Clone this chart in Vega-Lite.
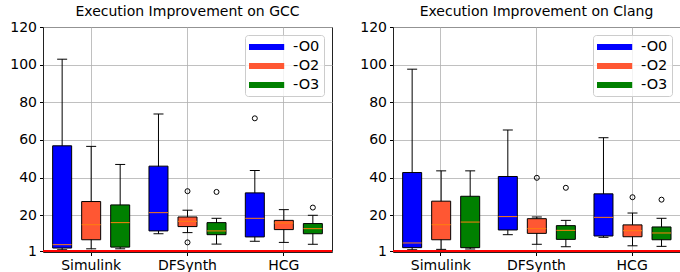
{
  "$schema": "https://vega.github.io/schema/vega-lite/v6.json",
  "padding": {"left": 9, "right": 4, "top": 4, "bottom": 0},
  "spacing": 25,
  "datasets": {
    "boxes": [
      {"compiler": "GCC", "group": "Simulink", "opt": "-O0", "lower": 1.7, "q1": 2.6, "median": 4.4, "q3": 56.9, "upper": 102.9},
      {"compiler": "GCC", "group": "Simulink", "opt": "-O2", "lower": 2.2, "q1": 7.0, "median": 15.0, "q3": 27.3, "upper": 56.6},
      {"compiler": "GCC", "group": "Simulink", "opt": "-O3", "lower": 2.2, "q1": 3.1, "median": 16.1, "q3": 25.5, "upper": 47.0},
      {"compiler": "GCC", "group": "DFSynth", "opt": "-O0", "lower": 10.2, "q1": 11.7, "median": 21.4, "q3": 46.1, "upper": 73.8},
      {"compiler": "GCC", "group": "DFSynth", "opt": "-O2", "lower": 10.8, "q1": 14.0, "median": 16.8, "q3": 19.1, "upper": 22.7},
      {"compiler": "GCC", "group": "DFSynth", "opt": "-O3", "lower": 4.7, "q1": 9.7, "median": 11.7, "q3": 16.1, "upper": 18.4},
      {"compiler": "GCC", "group": "HCG", "opt": "-O0", "lower": 6.2, "q1": 8.5, "median": 18.4, "q3": 31.9, "upper": 43.8},
      {"compiler": "GCC", "group": "HCG", "opt": "-O2", "lower": 5.6, "q1": 12.4, "median": 15.9, "q3": 17.3, "upper": 23.0},
      {"compiler": "GCC", "group": "HCG", "opt": "-O3", "lower": 4.6, "q1": 10.2, "median": 12.9, "q3": 15.6, "upper": 20.0},
      {"compiler": "Clang", "group": "Simulink", "opt": "-O0", "lower": 1.7, "q1": 2.8, "median": 5.3, "q3": 42.7, "upper": 97.6},
      {"compiler": "Clang", "group": "Simulink", "opt": "-O2", "lower": 1.9, "q1": 7.0, "median": 15.0, "q3": 27.5, "upper": 43.6},
      {"compiler": "Clang", "group": "Simulink", "opt": "-O3", "lower": 2.1, "q1": 2.8, "median": 16.4, "q3": 30.1, "upper": 43.6},
      {"compiler": "Clang", "group": "DFSynth", "opt": "-O0", "lower": 9.7, "q1": 12.2, "median": 19.3, "q3": 40.6, "upper": 65.3},
      {"compiler": "Clang", "group": "DFSynth", "opt": "-O2", "lower": 4.6, "q1": 10.4, "median": 12.9, "q3": 18.2, "upper": 19.1},
      {"compiler": "Clang", "group": "DFSynth", "opt": "-O3", "lower": 3.3, "q1": 7.2, "median": 12.0, "q3": 14.5, "upper": 17.3},
      {"compiler": "Clang", "group": "HCG", "opt": "-O0", "lower": 8.3, "q1": 9.0, "median": 18.9, "q3": 31.4, "upper": 61.2},
      {"compiler": "Clang", "group": "HCG", "opt": "-O2", "lower": 3.8, "q1": 8.6, "median": 11.8, "q3": 14.9, "upper": 21.2},
      {"compiler": "Clang", "group": "HCG", "opt": "-O3", "lower": 3.5, "q1": 7.0, "median": 10.6, "q3": 13.8, "upper": 18.4}
    ],
    "outliers": [
      {"compiler": "GCC", "group": "DFSynth", "opt": "-O2", "value": 32.8},
      {"compiler": "GCC", "group": "DFSynth", "opt": "-O2", "value": 5.6},
      {"compiler": "GCC", "group": "DFSynth", "opt": "-O3", "value": 32.4},
      {"compiler": "GCC", "group": "HCG", "opt": "-O0", "value": 71.5},
      {"compiler": "GCC", "group": "HCG", "opt": "-O3", "value": 24.1},
      {"compiler": "Clang", "group": "DFSynth", "opt": "-O2", "value": 39.9},
      {"compiler": "Clang", "group": "DFSynth", "opt": "-O3", "value": 34.6},
      {"compiler": "Clang", "group": "HCG", "opt": "-O2", "value": 29.6},
      {"compiler": "Clang", "group": "HCG", "opt": "-O3", "value": 28.3}
    ]
  },
  "hconcat": [
    {
      "width": 289, "height": 225,
      "title": {"text": "Execution Improvement on GCC"},
      "layer": [
        {"data": {"name": "boxes"}, "transform": [{"filter": "datum.compiler === 'GCC'"}],
         "mark": {"type": "rule", "color": "black", "strokeWidth": 1},
         "encoding": {
           "x": {"field": "group", "type": "nominal", "sort": ["Simulink", "DFSynth", "HCG"], "scale": {"paddingInner": 0, "paddingOuter": 0}, "axis": {"labelAngle": 0, "grid": true, "bandPosition": 0.5, "title": null}},
           "xOffset": {"field": "opt", "type": "nominal", "sort": ["-O0", "-O2", "-O3"], "scale": {"paddingInner": 0, "paddingOuter": 0.16}},
           "y": {"field": "lower", "type": "quantitative", "scale": {"domain": [0.5, 120], "nice": false, "zero": false}, "axis": {"values": [1, 20, 40, 60, 80, 100, 120], "tickCount": 10, "grid": true, "title": null}},
           "y2": {"field": "upper"}
         }},
        {"data": {"name": "boxes"}, "transform": [{"filter": "datum.compiler === 'GCC'"}],
         "mark": {"type": "bar", "size": 19, "stroke": "black", "strokeWidth": 1},
         "encoding": {
           "x": {"field": "group", "type": "nominal", "sort": ["Simulink", "DFSynth", "HCG"]},
           "xOffset": {"field": "opt", "type": "nominal", "sort": ["-O0", "-O2", "-O3"]},
           "y": {"field": "q1", "type": "quantitative"},
           "y2": {"field": "q3"},
           "color": {"field": "opt", "type": "nominal", "scale": {"domain": ["-O0", "-O2", "-O3"], "range": ["#0000ff", "#ff5733", "#008000"]}}
         }},
        {"data": {"name": "boxes"}, "transform": [{"filter": "datum.compiler === 'GCC'"}],
         "mark": {"type": "tick", "size": 19, "thickness": 1, "color": "#ff7f0e", "opacity": 1},
         "encoding": {
           "x": {"field": "group", "type": "nominal", "sort": ["Simulink", "DFSynth", "HCG"]},
           "xOffset": {"field": "opt", "type": "nominal", "sort": ["-O0", "-O2", "-O3"]},
           "y": {"field": "median", "type": "quantitative"}
         }},
        {"data": {"name": "boxes"}, "transform": [{"filter": "datum.compiler === 'GCC'"}],
         "mark": {"type": "tick", "size": 10, "thickness": 1, "color": "black", "opacity": 1},
         "encoding": {
           "x": {"field": "group", "type": "nominal", "sort": ["Simulink", "DFSynth", "HCG"]},
           "xOffset": {"field": "opt", "type": "nominal", "sort": ["-O0", "-O2", "-O3"]},
           "y": {"field": "lower", "type": "quantitative"}
         }},
        {"data": {"name": "boxes"}, "transform": [{"filter": "datum.compiler === 'GCC'"}],
         "mark": {"type": "tick", "size": 10, "thickness": 1, "color": "black", "opacity": 1},
         "encoding": {
           "x": {"field": "group", "type": "nominal", "sort": ["Simulink", "DFSynth", "HCG"]},
           "xOffset": {"field": "opt", "type": "nominal", "sort": ["-O0", "-O2", "-O3"]},
           "y": {"field": "upper", "type": "quantitative"}
         }},
        {"data": {"name": "outliers"}, "transform": [{"filter": "datum.compiler === 'GCC'"}],
         "mark": {"type": "point", "shape": "circle", "filled": false, "size": 25, "stroke": "black", "strokeWidth": 1, "opacity": 1},
         "encoding": {
           "x": {"field": "group", "type": "nominal", "sort": ["Simulink", "DFSynth", "HCG"]},
           "xOffset": {"field": "opt", "type": "nominal", "sort": ["-O0", "-O2", "-O3"]},
           "y": {"field": "value", "type": "quantitative"}
         }},
        {"data": {"values": [{}]},
         "mark": {"type": "rule", "color": "red", "strokeWidth": 2},
         "encoding": {"y": {"datum": 1, "type": "quantitative"}}}
      ]
    },
    {
      "width": 287, "height": 225,
      "title": {"text": "Execution Improvement on Clang"},
      "layer": [
        {"data": {"name": "boxes"}, "transform": [{"filter": "datum.compiler === 'Clang'"}],
         "mark": {"type": "rule", "color": "black", "strokeWidth": 1},
         "encoding": {
           "x": {"field": "group", "type": "nominal", "sort": ["Simulink", "DFSynth", "HCG"], "scale": {"paddingInner": 0, "paddingOuter": 0}, "axis": {"labelAngle": 0, "grid": true, "bandPosition": 0.5, "title": null}},
           "xOffset": {"field": "opt", "type": "nominal", "sort": ["-O0", "-O2", "-O3"], "scale": {"paddingInner": 0, "paddingOuter": 0.16}},
           "y": {"field": "lower", "type": "quantitative", "scale": {"domain": [0.5, 120], "nice": false, "zero": false}, "axis": {"values": [1, 20, 40, 60, 80, 100, 120], "tickCount": 10, "grid": true, "title": null}},
           "y2": {"field": "upper"}
         }},
        {"data": {"name": "boxes"}, "transform": [{"filter": "datum.compiler === 'Clang'"}],
         "mark": {"type": "bar", "size": 19, "stroke": "black", "strokeWidth": 1},
         "encoding": {
           "x": {"field": "group", "type": "nominal", "sort": ["Simulink", "DFSynth", "HCG"]},
           "xOffset": {"field": "opt", "type": "nominal", "sort": ["-O0", "-O2", "-O3"]},
           "y": {"field": "q1", "type": "quantitative"},
           "y2": {"field": "q3"},
           "color": {"field": "opt", "type": "nominal", "scale": {"domain": ["-O0", "-O2", "-O3"], "range": ["#0000ff", "#ff5733", "#008000"]}}
         }},
        {"data": {"name": "boxes"}, "transform": [{"filter": "datum.compiler === 'Clang'"}],
         "mark": {"type": "tick", "size": 19, "thickness": 1, "color": "#ff7f0e", "opacity": 1},
         "encoding": {
           "x": {"field": "group", "type": "nominal", "sort": ["Simulink", "DFSynth", "HCG"]},
           "xOffset": {"field": "opt", "type": "nominal", "sort": ["-O0", "-O2", "-O3"]},
           "y": {"field": "median", "type": "quantitative"}
         }},
        {"data": {"name": "boxes"}, "transform": [{"filter": "datum.compiler === 'Clang'"}],
         "mark": {"type": "tick", "size": 10, "thickness": 1, "color": "black", "opacity": 1},
         "encoding": {
           "x": {"field": "group", "type": "nominal", "sort": ["Simulink", "DFSynth", "HCG"]},
           "xOffset": {"field": "opt", "type": "nominal", "sort": ["-O0", "-O2", "-O3"]},
           "y": {"field": "lower", "type": "quantitative"}
         }},
        {"data": {"name": "boxes"}, "transform": [{"filter": "datum.compiler === 'Clang'"}],
         "mark": {"type": "tick", "size": 10, "thickness": 1, "color": "black", "opacity": 1},
         "encoding": {
           "x": {"field": "group", "type": "nominal", "sort": ["Simulink", "DFSynth", "HCG"]},
           "xOffset": {"field": "opt", "type": "nominal", "sort": ["-O0", "-O2", "-O3"]},
           "y": {"field": "upper", "type": "quantitative"}
         }},
        {"data": {"name": "outliers"}, "transform": [{"filter": "datum.compiler === 'Clang'"}],
         "mark": {"type": "point", "shape": "circle", "filled": false, "size": 25, "stroke": "black", "strokeWidth": 1, "opacity": 1},
         "encoding": {
           "x": {"field": "group", "type": "nominal", "sort": ["Simulink", "DFSynth", "HCG"]},
           "xOffset": {"field": "opt", "type": "nominal", "sort": ["-O0", "-O2", "-O3"]},
           "y": {"field": "value", "type": "quantitative"}
         }},
        {"data": {"values": [{}]},
         "mark": {"type": "rule", "color": "red", "strokeWidth": 2},
         "encoding": {"y": {"datum": 1, "type": "quantitative"}}}
      ]
    }
  ],
  "resolve": {"legend": {"color": "independent"}},
  "config": {
    "font": "DejaVu Sans",
    "view": {"stroke": "#222222", "strokeWidth": 1},
    "axis": {"labelFont": "DejaVu Sans", "labelFontSize": 14, "labelColor": "#000000", "tickColor": "#000000", "domain": false, "gridColor": "#b0b0b0", "gridWidth": 0.8, "tickSize": 3.5, "labelPadding": 3, "labelOverlap": false},
    "title": {"font": "DejaVu Sans", "fontSize": 14, "fontWeight": "normal", "offset": 1, "color": "#000000", "frame": "group"},
    "legend": {"title": null, "orient": "top-right", "offset": 8, "symbolType": "M-1,-0.375H3.4V0.375H-1Z", "symbolSize": 256, "symbolStrokeWidth": 0, "symbolOpacity": 1, "labelFont": "DejaVu Sans", "labelFontSize": 14.5, "labelColor": "#000000", "labelOffset": 28, "rowPadding": 4, "padding": 4, "strokeColor": "#cccccc", "fillColor": "rgba(255,255,255,0.8)", "cornerRadius": 3}
  }
}
